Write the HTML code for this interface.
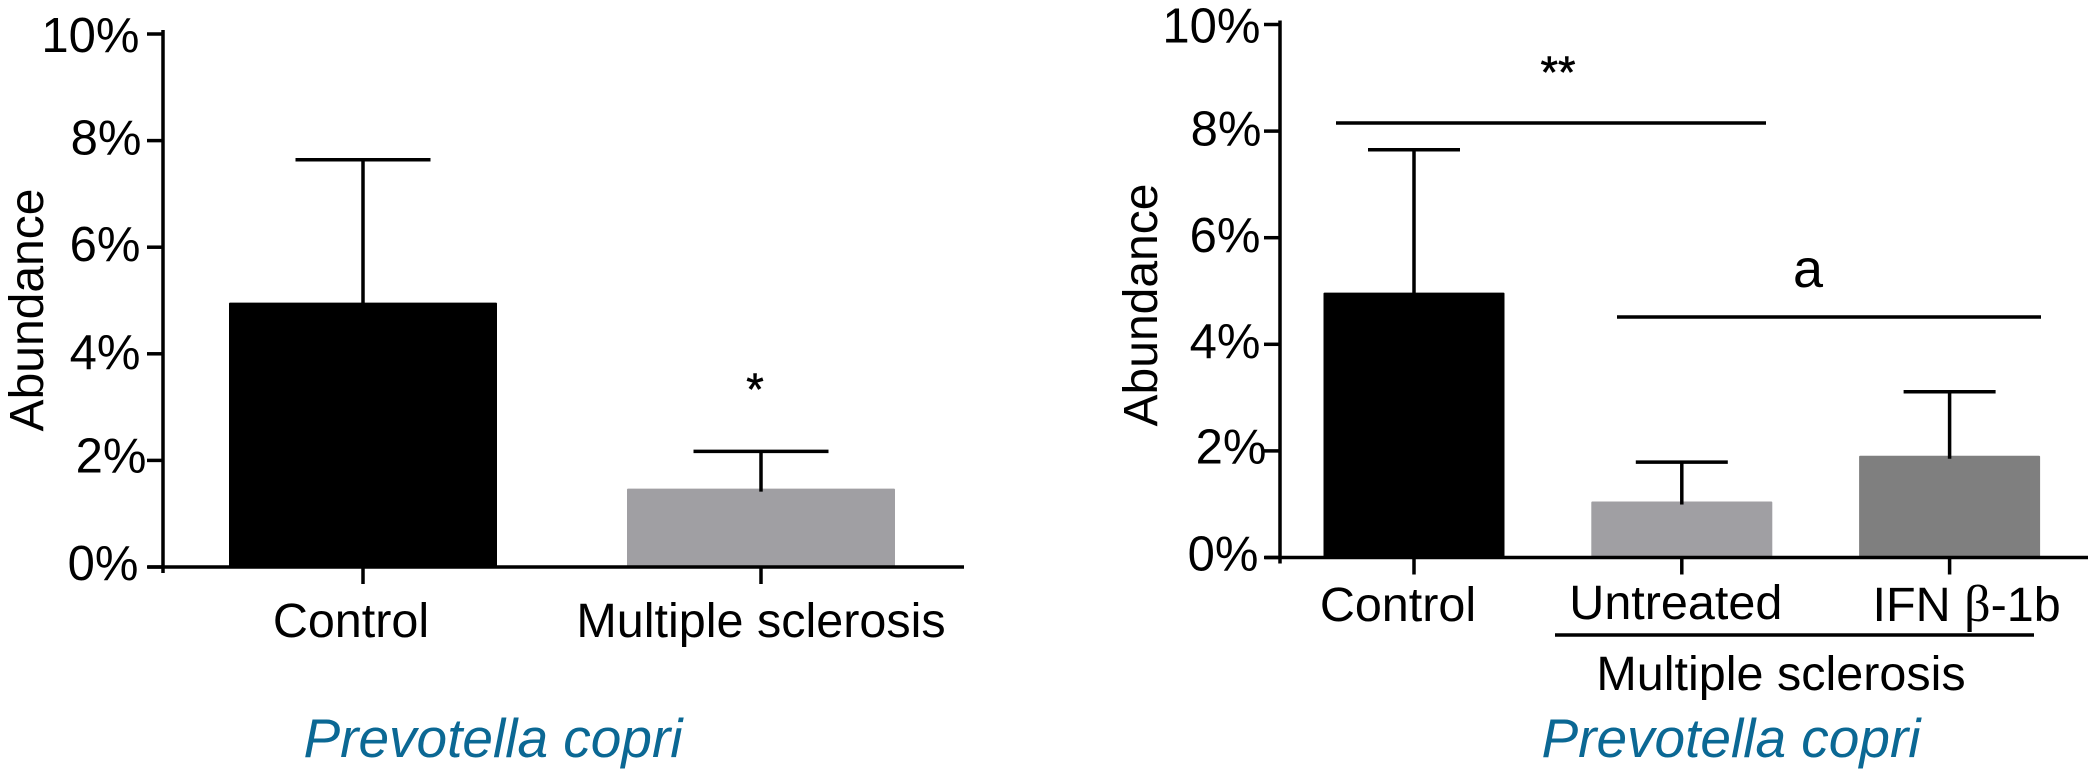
<!DOCTYPE html>
<html lang="en">
<head>
<meta charset="utf-8">
<title>Prevotella copri abundance</title>
<style>
  html, body { margin: 0; padding: 0; background: #fff; }
  svg { display: block; }
  text { font-family: "Liberation Sans", "DejaVu Sans", sans-serif; fill: #000; }
  .taxon { font-style: italic; fill: #0b6894; }
  .beta { font-family: "Liberation Serif", "DejaVu Serif", serif; font-size: 52px; }
  .star { stroke: #000; stroke-width: 0.6; }
</style>
</head>
<body>
<svg id="figure" xmlns="http://www.w3.org/2000/svg" width="2088" height="769" viewBox="0 0 2088 769">
  <rect x="0" y="0" width="2088" height="769" fill="#ffffff"/>
  <g id="panel-left">
    <text x="493" y="757" font-size="55" text-anchor="middle" class="taxon">Prevotella copri</text>
    <text x="43" y="310" font-size="48" text-anchor="middle" transform="rotate(-90 43 310)">Abundance</text>
    <text x="755" y="405" font-size="45" text-anchor="middle" class="star">*</text>
  </g>
  <g id="panel-right">
    <text x="1731" y="757" font-size="55" text-anchor="middle" class="taxon">Prevotella copri</text>
    <text x="1157" y="305" font-size="48" text-anchor="middle" transform="rotate(-90 1157 305)">Abundance</text>
    <text x="1558" y="88" font-size="45" text-anchor="middle" class="star">**</text>
    <text x="1808" y="287" font-size="54" text-anchor="middle">a</text>
    <line x1="1336" x2="1766" y1="123" y2="123" stroke="#000" stroke-width="3.5"/>
    <line x1="1617" x2="2041" y1="317" y2="317" stroke="#000" stroke-width="3.5"/>
    <line x1="1555" x2="2034" y1="635" y2="635" stroke="#000" stroke-width="3.5"/>
    <text x="1781" y="690" font-size="48.5" text-anchor="middle">Multiple sclerosis</text>
  </g>
</svg>
<script>
// Chart data
const tickValues = [0, 2, 4, 6, 8, 10];
const tickLabels = ["0%", "2%", "4%", "6%", "8%", "10%"];

const leftCategories = ["Control", "Multiple sclerosis"];
const leftMeans = [4.96, 1.47];
const leftErrors = [2.68, 0.70];

const rightCategories = ["Control", "Untreated", "IFN β-1b"];
const rightMeans = [4.97, 1.05, 1.91];
const rightErrors = [2.68, 0.74, 1.20];

// Layout
const SVG_NS = "http://www.w3.org/2000/svg";
const leftLayout = {
  id: "left", axisX: 163, axisEnd: 964, y0: 567, unit: 53.3,
  firstCenter: 363, step: 398, barWidth: 268, capWidth: 135, tickLabelX: 139.5,
  catBaseline: 637,
  colors: ["#000000", "#a09fa3"],
  catNudge: { "Control": -12, "Multiple sclerosis": 0 },
  catRise: { "Control": 0, "Multiple sclerosis": 0 },
  tickNudge: { "0%": [-1, 13], "2%": [7, 12], "4%": [1, 15], "6%": [1, 14], "8%": [2, 14], "10%": [0, 18] }
};
const rightLayout = {
  id: "right", axisX: 1280, axisEnd: 2088, y0: 557.5, unit: 53.3,
  firstCenter: 1414, step: 267.8, barWidth: 181, capWidth: 92, tickLabelX: 1260.5,
  catBaseline: 621,
  colors: ["#000000", "#a09fa3", "#7f7f7f"],
  catNudge: { "Control": -16, "Untreated": -6, "IFN β-1b": 17 },
  catRise: { "Control": 0, "Untreated": 2, "IFN β-1b": 0 },
  tickNudge: { "0%": [-2, 13], "2%": [6, 12.5], "4%": [0, 13.5], "6%": [0, 14.5], "8%": [1, 14.5], "10%": [0, 18] }
};

function make(parent, tag, attrs) {
  const el = document.createElementNS(SVG_NS, tag);
  for (const key in attrs) { el.setAttribute(key, attrs[key]); }
  parent.appendChild(el);
  return el;
}
function slug(text) {
  return text.toLowerCase().replace(/[^a-z0-9]+/g, "-").replace(/^-|-$/g, "");
}

function drawPanel(layout, categories, means, errors) {
  const root = document.getElementById("panel-" + layout.id);
  const yScale = function (v) { return layout.y0 - v * layout.unit; };
  const xScale = function (i) { return layout.firstCenter + i * layout.step; };
  const lineW = 3.5;

  categories.forEach(function (cat, i) {
    const cx = xScale(i);
    const top = yScale(means[i]);
    const errTop = yScale(means[i] + errors[i]);
    const name = slug(cat);

    const bar = make(root, "rect", { x: cx - layout.barWidth / 2, y: top, width: layout.barWidth, height: layout.y0 - top, fill: layout.colors[i], rx: 1 });
    
    

    const stem = make(root, "line", { x1: cx, x2: cx, y1: errTop, y2: top + 3, stroke: "#000", "stroke-width": lineW });
    
    

    const cap = make(root, "line", { x1: cx - layout.capWidth / 2, x2: cx + layout.capWidth / 2, y1: errTop, y2: errTop, stroke: "#000", "stroke-width": lineW });
    
    

    const tick = make(root, "line", { x1: cx, x2: cx, y1: layout.y0, y2: layout.y0 + 17, stroke: "#000", "stroke-width": lineW });
    
    

    const label = make(root, "text", { x: cx + layout.catNudge[cat], y: layout.catBaseline - layout.catRise[cat], "font-size": 48.5, "text-anchor": "middle" });
    
    
    const betaAt = cat.indexOf("β");
    if (betaAt >= 0) {
      label.appendChild(document.createTextNode(cat.slice(0, betaAt)));
      const greek = make(label, "tspan", { "class": "beta" });
      
      
      greek.textContent = "β";
      label.appendChild(document.createTextNode(cat.slice(betaAt + 1)));
    } else {
      label.textContent = cat;
    }
  });

  const yAxis = make(root, "line", { x1: layout.axisX, x2: layout.axisX, y1: yScale(10) - 4, y2: layout.y0 + 6, stroke: "#000", "stroke-width": lineW });
  
  

  const xAxis = make(root, "line", { x1: layout.axisX - 15, x2: layout.axisEnd, y1: layout.y0, y2: layout.y0, stroke: "#000", "stroke-width": lineW });
  
  

  tickValues.forEach(function (v, i) {
    const y = yScale(v);
    const text = tickLabels[i];
    const nudge = layout.tickNudge[text];

    const tick = make(root, "line", { x1: layout.axisX - 16, x2: layout.axisX, y1: y, y2: y, stroke: "#000", "stroke-width": lineW });
    
    

    const label = make(root, "text", { x: layout.tickLabelX + nudge[0], y: y + nudge[1], "font-size": 49, "text-anchor": "end" });
    
    
    label.textContent = text;
  });
}

drawPanel(leftLayout, leftCategories, leftMeans, leftErrors);
drawPanel(rightLayout, rightCategories, rightMeans, rightErrors);
</script>
</body>
</html>
